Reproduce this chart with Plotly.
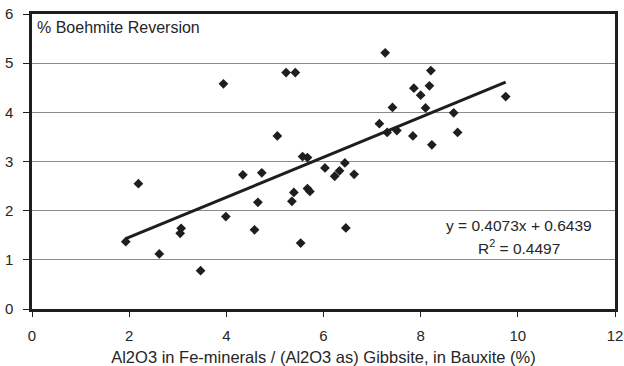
import plotly.graph_objects as go

x_vals = [1.93, 2.19, 2.62, 3.05, 3.07, 3.47, 3.94, 3.99, 4.34, 4.58, 4.65, 4.73,
          5.05, 5.23, 5.35, 5.39, 5.42, 5.53, 5.57, 5.67, 5.67, 5.72, 6.03, 6.23,
          6.33, 6.44, 6.46, 6.63, 7.15, 7.27, 7.31, 7.42, 7.51, 7.84, 7.86, 8.00,
          8.10, 8.18, 8.21, 8.23, 8.68, 8.76, 9.75]
y_vals = [1.37, 2.55, 1.12, 1.54, 1.64, 0.78, 4.58, 1.88, 2.73, 1.61, 2.17, 2.77,
          3.52, 4.81, 2.19, 2.37, 4.81, 1.34, 3.10, 3.08, 2.45, 2.39, 2.87, 2.70,
          2.81, 2.97, 1.65, 2.74, 3.77, 5.21, 3.59, 4.10, 3.63, 3.52, 4.49, 4.35,
          4.09, 4.54, 4.85, 3.34, 3.99, 3.59, 4.32]
slope = 0.4073
intercept = 0.6439
r_squared = 0.4497
x_ticks = [0, 2, 4, 6, 8, 10, 12]
y_ticks = [0, 1, 2, 3, 4, 5, 6]

font_family = "Liberation Sans, Arial, sans-serif"
dark = "#1e1e1e"
text_col = "#262626"

x_line = [min(x_vals), max(x_vals)]
y_line = [slope * v + intercept for v in x_line]

fig = go.Figure()
fig.add_trace(go.Scatter(x=x_line, y=y_line, mode="lines",
                         line=dict(color=dark, width=3), hoverinfo="skip"))
fig.add_trace(go.Scatter(x=x_vals, y=y_vals, mode="markers",
                         marker=dict(symbol="diamond", size=7.5, color=dark)))

fig.update_layout(
    width=624, height=366,
    margin=dict(l=32, r=9, t=14, b=57),
    paper_bgcolor="white", plot_bgcolor="white",
    showlegend=False,
    font=dict(family=font_family, size=14, color=text_col),
    xaxis=dict(range=[0, 12], tickvals=x_ticks, showgrid=False, zeroline=False,
               showline=True, linecolor=dark, linewidth=2.5, mirror=True,
               ticks="outside", ticklen=5, tickcolor=dark, tickwidth=1,
               ticklabelstandoff=6, automargin=False,
               tickfont=dict(size=15, color=text_col),
               title=dict(text="Al2O3 in Fe-minerals / (Al2O3 as) Gibbsite, in Bauxite (%)",
                          font=dict(size=16.5, color=text_col), standoff=9)),
    yaxis=dict(range=[0, 6], tickvals=y_ticks, showgrid=True, gridcolor="#8c8c8c",
               gridwidth=1, zeroline=False,
               showline=True, linecolor=dark, linewidth=2.5, mirror=True,
               ticks="outside", ticklen=6, tickcolor=dark, tickwidth=1,
               ticklabelstandoff=7, automargin=False,
               tickfont=dict(size=15, color=text_col)),
    annotations=[
        dict(text="% Boehmite Reversion", xref="paper", yref="paper",
             x=0.005, y=0.99, xanchor="left", yanchor="top", showarrow=False,
             font=dict(size=16, color=text_col)),
        dict(text="y = %.4fx + %.4f" % (slope, intercept), xref="x", yref="y",
             x=10.02, y=1.69, xanchor="center", yanchor="middle", showarrow=False,
             font=dict(size=15.5, color=text_col)),
        dict(text="R<sup>2</sup> = %.4f" % r_squared, xref="x", yref="y",
             x=10.02, y=1.26, xanchor="center", yanchor="middle", showarrow=False,
             font=dict(size=15.5, color=text_col)),
    ],
)

fig.write_html("out.html")
